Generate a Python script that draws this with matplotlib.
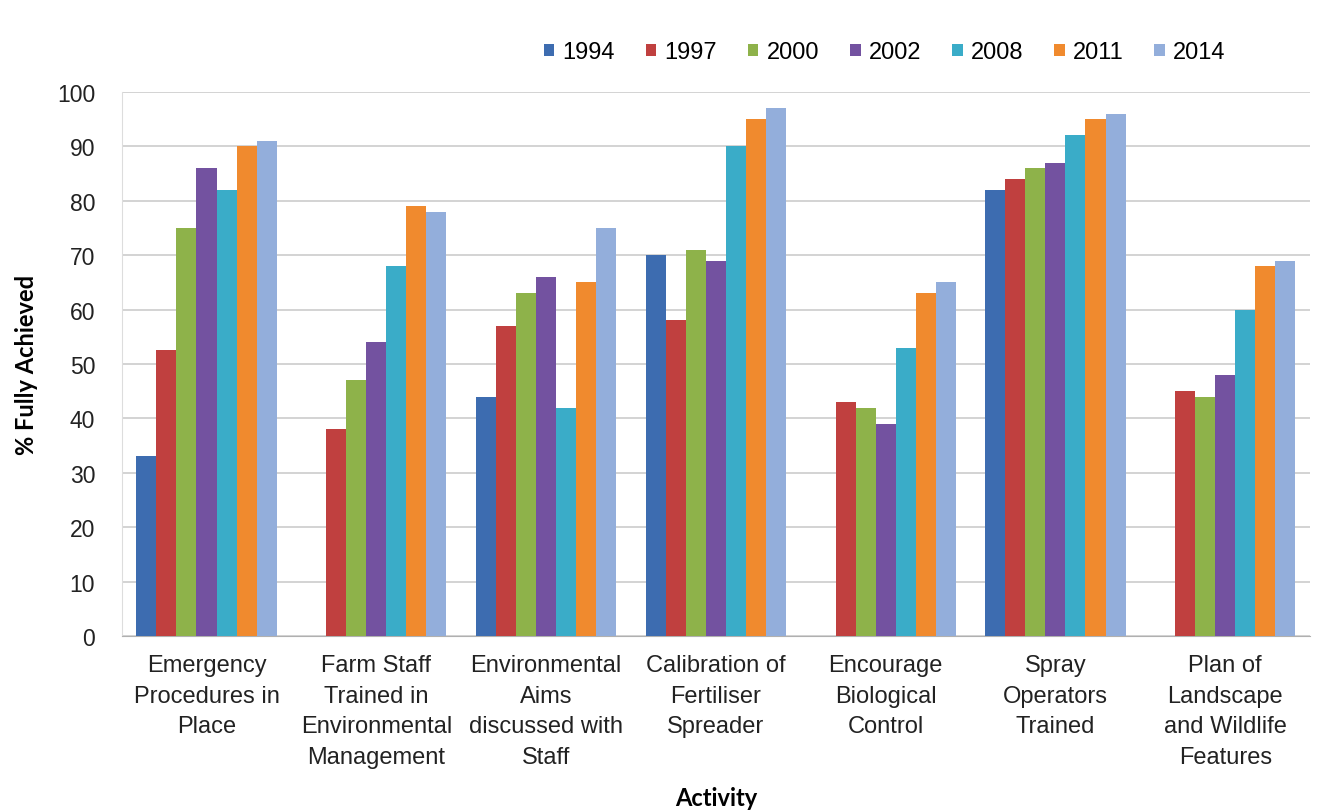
import numpy as np
import matplotlib
matplotlib.use("Agg")
import matplotlib.pyplot as plt

plt.rcParams["font.family"] = ["Liberation Sans", "DejaVu Sans"]

activities = [
    "Emergency\nProcedures in\nPlace",
    "Farm Staff\nTrained in\nEnvironmental\nManagement",
    "Environmental\nAims\ndiscussed with\nStaff",
    "Calibration of\nFertiliser\nSpreader",
    "Encourage\nBiological\nControl",
    "Spray\nOperators\nTrained",
    "Plan of\nLandscape\nand Wildlife\nFeatures",
]
years = ["1994", "1997", "2000", "2002", "2008", "2011", "2014"]

nan = np.nan
v1994 = [33, nan, 44, 70, nan, 82, nan]
v1997 = [52.5, 38, 57, 58, 43, 84, 45]
v2000 = [75, 47, 63, 71, 42, 86, 44]
v2002 = [86, 54, 66, 69, 39, 87, 48]
v2008 = [82, 68, 42, 90, 53, 92, 60]
v2011 = [90, 79, 65, 95, 63, 95, 68]
v2014 = [91, 78, 75, 97, 65, 96, 69]
series = [v1994, v1997, v2000, v2002, v2008, v2011, v2014]

colors = ["#3D6CB0", "#C0403F", "#8EB24A", "#7352A0", "#3AACC8", "#F08A2E", "#93AEDB"]

fig = plt.figure(figsize=(13.22, 8.12), dpi=100)
ax = fig.add_axes([0.092, 0.2155, 0.899, 0.67])

x = np.arange(len(activities))
w = 0.118
for i, (vals, col, yr) in enumerate(zip(series, colors, years)):
    ax.bar(x + (i - 3) * w, vals, w, color=col, label=yr, zorder=3)

ax.set_xlim(-0.5, len(activities) - 0.5)
ax.set_ylim(0, 100)
ax.set_yticks(range(0, 101, 10))
ax.yaxis.grid(True, color="#cccccc", linewidth=1.2, zorder=0)
for s in ["top", "right"]:
    ax.spines[s].set_visible(False)
ax.spines["bottom"].set_color("#b0b0b0")
ax.spines["left"].set_color("#dddddd")
ax.tick_params(axis="y", length=0, labelsize=16.5, pad=19, labelcolor="#222222")
ax.tick_params(axis="x", length=0, labelsize=17, pad=13, labelcolor="#222222")
ax.set_xticks(x)
ax.set_xticklabels(activities, linespacing=1.5, va="top")

ax.set_ylabel("% Fully Achieved", fontsize=17, fontweight="bold",
              family=["Lato", "DejaVu Sans"], labelpad=14)
ax.set_xlabel("Activity", fontsize=17, fontweight="bold",
              family=["Lato", "DejaVu Sans"], labelpad=13)

ax.legend(ncol=7, loc="lower right", bbox_to_anchor=(0.937, 1.035), frameon=False,
          fontsize=17, handlelength=0.45, handleheight=0.45, handletextpad=0.35,
          columnspacing=1.3, borderaxespad=0)

fig.savefig("out.png", dpi=100)
